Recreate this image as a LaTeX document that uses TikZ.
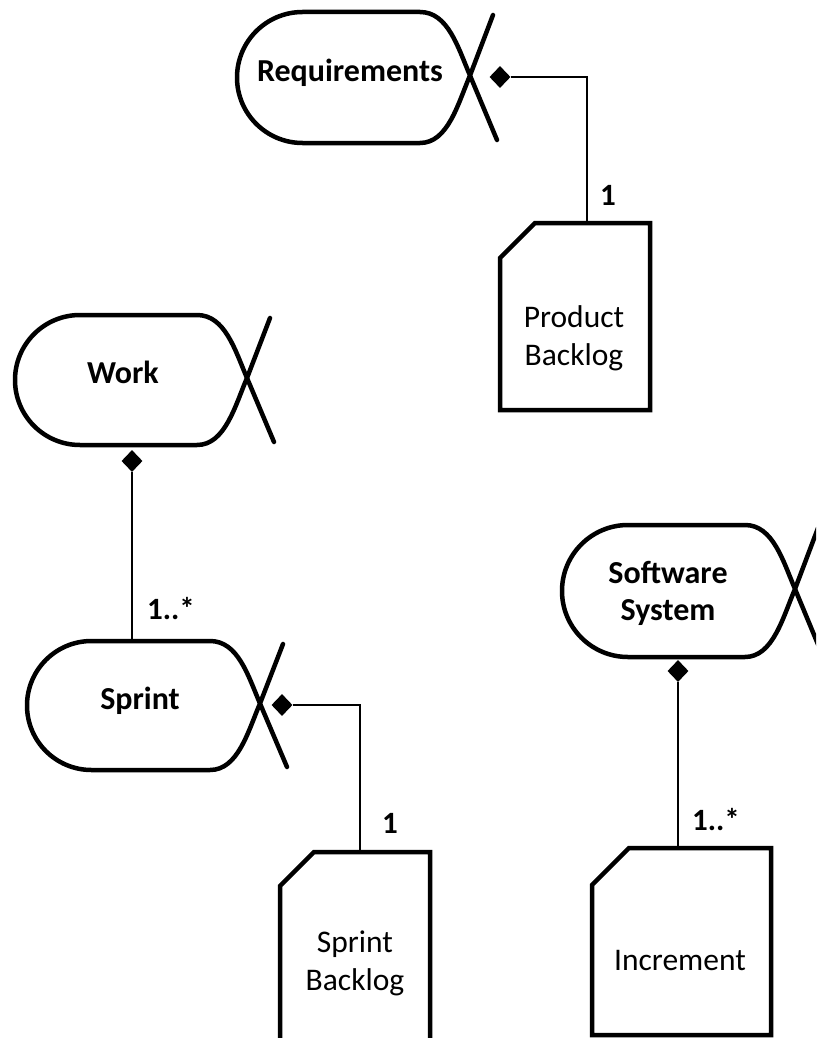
\documentclass[tikz,border=0pt]{standalone}
\usepackage{fontspec}
\setmainfont{Carlito}
\usetikzlibrary{shapes.geometric}

% Alpha outline: left x, top y, bottom y, x of the crossing on the right
\newcommand\alphaOutline[4]{%
  \pgfmathsetmacro\aM{(#2+#3)/2-2}%
  \pgfmathsetmacro\aR{(#3-#2)/2}%
  \draw[alphaline] (#4+27,#3-3) -- (#4,\aM)
    .. controls (#4-12,\aM-28) and (#4-22,#2) .. (#4-50,#2)
    -- (#1+\aR,#2) arc[start angle=270,end angle=90,radius=\aR]
    -- (#4-50,#3)
    .. controls (#4-22,#3) and (#4-12,\aM+28) .. (#4,\aM)
    -- (#4+23,#2+3);%
}
% Work product outline: left, top, right, bottom, size of the cut corner
\newcommand\docOutline[5]{%
  \draw[docline] (#1+#5,#2) -- (#3,#2) -- (#3,#4) -- (#1,#4) -- (#1,#2+#5) -- cycle;%
}

\begin{document}
\begin{tikzpicture}[x=1pt,y=-1pt,
  alphaline/.style={line width=4.5pt, line cap=round, line join=round},
  docline/.style={line width=4.5pt, line join=miter},
  link/.style={line width=1.3pt},
  comp/.style={shape=diamond, fill=black, inner sep=0pt, minimum width=21pt, minimum height=22pt},
  title/.style={font=\fontsize{32}{37}\selectfont\bfseries, align=center, anchor=base},
  doctext/.style={font=\fontsize{31.5}{38}\selectfont, align=center, anchor=base},
  mult/.style={font=\fontsize{31}{36}\selectfont\bfseries, anchor=base}
]
\useasboundingbox (0,0) rectangle (816,1038);
\fill[white] (0,0) rectangle (816,1038);
\clip (0,0) rectangle (816,1038);

% alphas
\alphaOutline{237}{12}{143}{470}
\alphaOutline{15}{315}{445}{247}
\alphaOutline{27}{641}{770}{260}
\alphaOutline{562}{525}{657}{795}

% base anchors sit on the last line of each label
\node[title] (req) at (350,82) {Requirements};
\node[title] (work) at (123,383) {Work};
\node[title] (sprint) at (140,709) {Sprint};
\node[title] (sys) at (668,620) {Software\\System};

% work products
\docOutline{500}{223}{650}{410}{35}
\docOutline{280}{852}{430}{1060}{34}
\docOutline{592}{848}{771}{1035}{37}

\node[doctext] (pb) at (574,365) {Product\\Backlog};
\node[doctext] (sb) at (355,990) {Sprint\\Backlog};
\node[doctext] (inc) at (680,970) {Increment};

% composition links
\node[comp] (reqc) at (500,77) {};
\node[comp] (workc) at (132,461) {};
\node[comp] (sprintc) at (282,705) {};
\node[comp] (sysc) at (678,671) {};

\coordinate (pbtop) at (587,223);
\coordinate (sprinttop) at (132,641);
\coordinate (sbtop) at (360,852);
\coordinate (inctop) at (678,848);

\draw[link] (reqc.east) -| (pbtop);
\draw[link] (workc.south) -- (sprinttop);
\draw[link] (sprintc.east) -| (sbtop);
\draw[link] (sysc.south) -- (inctop);

% multiplicities
\node[mult] (m1) at (608,205) {1};
\node[mult] (m2) at (171,619) {1..*};
\node[mult] (m3) at (390,833) {1};
\node[mult] (m4) at (716,830) {1..*};
\end{tikzpicture}
\end{document}
